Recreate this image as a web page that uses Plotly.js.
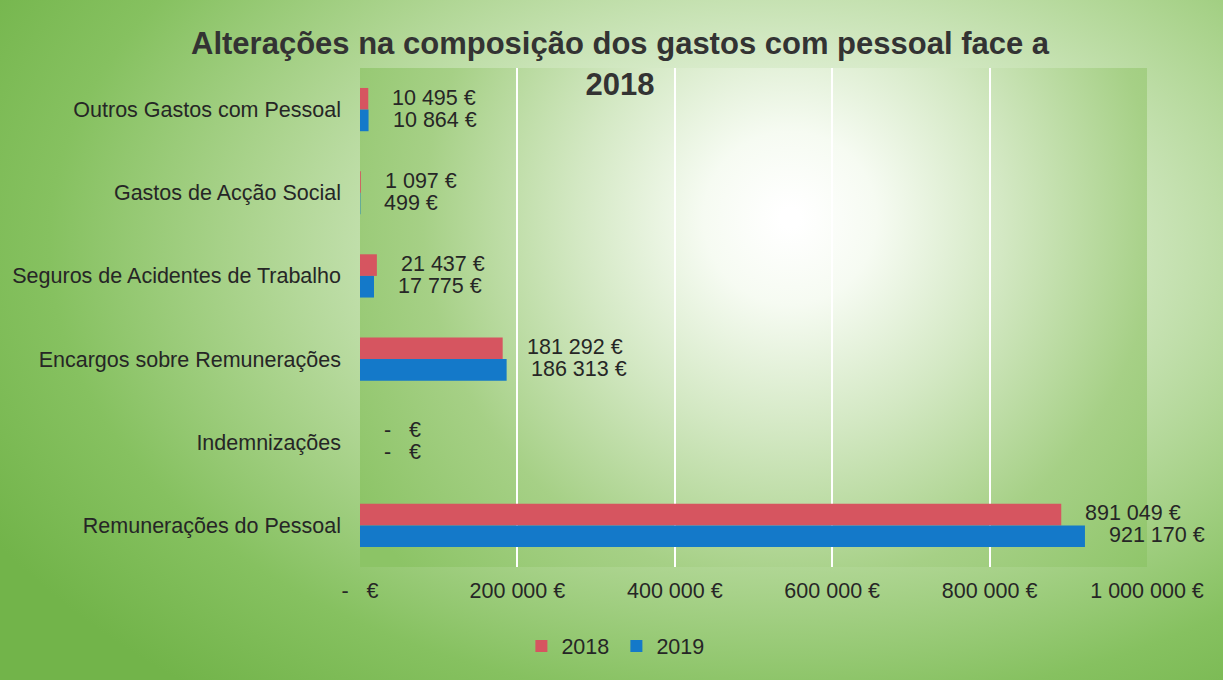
<!DOCTYPE html>
<html>
<head>
<meta charset="utf-8">
<script src="https://cdn.plot.ly/plotly-3.0.1.min.js"></script>
<style>
  html, body { margin: 0; padding: 0; }
  #chart {
    width: 1223px; height: 680px;
    background: radial-gradient(ellipse 75% 85% at 64% 36%, #ffffff 0%, #f3f9ee 14%, #d4e9c5 34%, #acd48f 58%, #86c160 80%, #72b44a 100%);
  }
</style>
</head>
<body>
<div id="chart"></div>
<script>
// ---- data ----
const categories = [
  "Outros Gastos com Pessoal",
  "Gastos de Acção Social",
  "Seguros de Acidentes de Trabalho",
  "Encargos sobre Remunerações",
  "Indemnizações",
  "Remunerações do Pessoal"
];
const values2018 = [10495, 1097, 21437, 181292, 0, 891049];
const values2019 = [10864, 499, 17775, 186313, 0, 921170];
const seriesNames = ["2018", "2019"];
const tickValues = [0, 200000, 400000, 600000, 800000, 1000000];
const tickLabels = ["-   €", "200 000 €", "400 000 €", "600 000 €", "800 000 €", "1 000 000 €"];

function euro(v) {
  if (v === 0) return "-   €";
  return String(v).replace(/\B(?=(\d{3})+(?!\d))/g, " ") + " €";
}

// plot-area gradient image
function plotAreaGradient() {
  const c = document.createElement("canvas");
  c.width = 787; c.height = 499;
  const g = c.getContext("2d");
  const rg = g.createRadialGradient(430, 150, 10, 430, 150, 520);
  rg.addColorStop(0, "#ffffff");
  rg.addColorStop(0.15, "#f6fbf2");
  rg.addColorStop(0.4, "#d3e8c3");
  rg.addColorStop(0.7, "#a6d086");
  rg.addColorStop(1, "#8cc466");
  g.fillStyle = rg;
  g.fillRect(0, 0, c.width, c.height);
  return c.toDataURL("image/png");
}

const FONT = "Liberation Sans, Arial, sans-serif";
const TXT = "#262626";
const FS = 21.5;
const barW = 0.26;

const traces = [
  {
    type: "bar", orientation: "h", name: seriesNames[0],
    y: categories, x: values2018,
    width: barW, offset: -barW,
    marker: { color: "#d65560" },
    hoverinfo: "x+y"
  },
  {
    type: "bar", orientation: "h", name: seriesNames[1],
    y: categories, x: values2019,
    width: barW, offset: 0,
    marker: { color: "#1479c9" },
    hoverinfo: "x+y"
  }
];

const annotations = [];
categories.forEach((c, i) => {
  annotations.push({
    xref: "x", yref: "y", x: values2018[i], y: c,
    text: euro(values2018[i]), showarrow: false,
    xanchor: "left", yanchor: "middle", xshift: 22, yshift: 12,
    font: { family: FONT, size: FS, color: TXT }
  });
  annotations.push({
    xref: "x", yref: "y", x: values2019[i], y: c,
    text: euro(values2019[i]), showarrow: false,
    xanchor: "left", yanchor: "middle", xshift: 22, yshift: -10,
    font: { family: FONT, size: FS, color: TXT }
  });
});

const layout = {
  width: 1223, height: 680,
  margin: { l: 360, r: 76, t: 68, b: 113 },
  paper_bgcolor: "rgba(0,0,0,0)",
  plot_bgcolor: "rgba(0,0,0,0)",
  font: { family: FONT, size: FS, color: TXT },
  title: {
    text: "<b>Alterações na composição dos gastos com pessoal face a<br>2018</b>",
    font: { family: FONT, size: 31, color: "#333333" },
    x: 0.507, xanchor: "center", xref: "container",
    y: 0.92, yanchor: "top", yref: "container"
  },
  barmode: "group",
  xaxis: {
    range: [0, 1000000],
    tickvals: tickValues, ticktext: tickLabels,
    showgrid: true, gridcolor: "#ffffff", gridwidth: 2,
    zeroline: false, showline: false, ticks: "",
    ticklabelstandoff: 8,
    tickfont: { family: FONT, size: FS, color: TXT },
    fixedrange: true
  },
  yaxis: {
    type: "category", categoryorder: "array", categoryarray: categories,
    autorange: "reversed",
    showgrid: false, zeroline: false, showline: false, ticks: "",
    ticklabelstandoff: 18,
    tickfont: { family: FONT, size: FS, color: TXT },
    fixedrange: true
  },
  showlegend: true,
  legend: {
    orientation: "h", xref: "container", yref: "container",
    x: 0.504, xanchor: "center", y: 0.05, yanchor: "middle",
    font: { family: FONT, size: FS, color: TXT },
    bgcolor: "rgba(0,0,0,0)", itemwidth: 30, traceorder: "normal",
    entrywidth: 50
  },
  annotations: annotations,
  images: [{
    source: plotAreaGradient(), xref: "paper", yref: "paper",
    x: 0, y: 1, sizex: 1, sizey: 1, xanchor: "left", yanchor: "top",
    sizing: "stretch", layer: "below"
  }]
};

Plotly.newPlot("chart", traces, layout, { displayModeBar: false, staticPlot: true });
</script>
</body>
</html>
